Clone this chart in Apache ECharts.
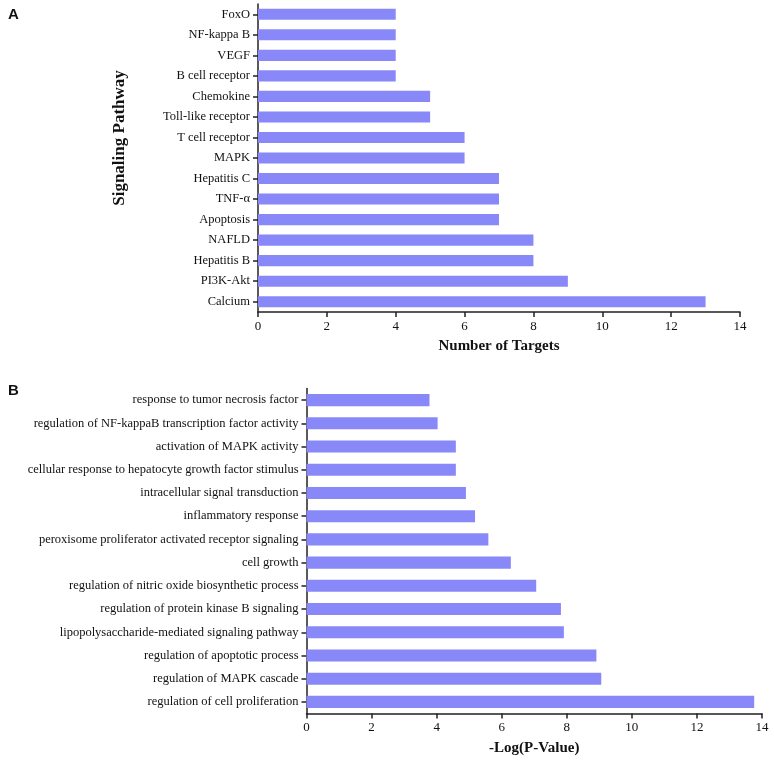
<!DOCTYPE html>
<html>
<head>
<meta charset="utf-8">
<script src="https://cdn.jsdelivr.net/npm/echarts@6/dist/echarts.min.js"></script>
<style>
html,body{margin:0;padding:0;background:#fff;}
#chart{width:774px;height:760px;}
</style>
</head>
<body>
<div id="chart"></div>
<script>
// Panel A data (top to bottom)
var pathwayCategories = ["FoxO","NF-kappa B","VEGF","B cell receptor","Chemokine","Toll-like receptor","T cell receptor","MAPK","Hepatitis C","TNF-\u03b1","Apoptosis","NAFLD","Hepatitis B","PI3K-Akt","Calcium"];
var pathwayTargets = [4,4,4,4,5,5,6,6,7,7,7,8,8,9,13];

// Panel B data (top to bottom)
var goCategories = ["response to tumor necrosis factor","regulation of NF-kappaB transcription factor activity","activation of MAPK activity","cellular response to hepatocyte growth factor stimulus","intracellular signal transduction","inflammatory response","peroxisome proliferator activated receptor signaling","cell growth","regulation of nitric oxide biosynthetic process","regulation of protein kinase B signaling","lipopolysaccharide-mediated signaling pathway","regulation of apoptotic process","regulation of MAPK cascade","regulation of cell proliferation"];
var goLogP = [3.78,4.03,4.59,4.59,4.90,5.18,5.59,6.28,7.06,7.82,7.91,8.91,9.06,13.76];

var xTicks = [0,2,4,6,8,10,12,14];

var serif = "'Liberation Serif','Times New Roman',serif";
var axisColor = '#222';
var barColor = '#8888f8';

function xAxisDef(gridIndex, name){
  return {
    type:'value', gridIndex:gridIndex, min:xTicks[0], max:xTicks[xTicks.length-1], interval:xTicks[1]-xTicks[0],
    name:name, nameLocation:'middle', nameGap:27,
    nameTextStyle:{fontFamily:serif, fontWeight:'bold', fontSize:15, color:'#111'},
    axisLine:{show:true, lineStyle:{color:axisColor, width:1.5}},
    axisTick:{show:true, inside:false, length:5, lineStyle:{color:axisColor, width:1.5}},
    axisLabel:{fontFamily:serif, fontSize:13, color:'#111', margin:8},
    splitLine:{show:false}
  };
}
function yAxisDef(gridIndex, cats){
  return {
    type:'category', gridIndex:gridIndex, data:cats, inverse:true,
    axisLine:{show:true, lineStyle:{color:axisColor, width:1.5}},
    axisTick:{show:true, alignWithLabel:true, length:5, lineStyle:{color:axisColor, width:1.5}},
    axisLabel:{fontFamily:serif, fontSize:12.5, color:'#111', margin:8, interval:0},
    splitLine:{show:false}
  };
}

var chart = echarts.init(document.getElementById('chart'), null, {renderer:'canvas'});
chart.setOption({
  backgroundColor:'#fff',
  animation:false,
  grid:[
    {left:258, top:4, width:482, height:308},
    {left:306.5, top:388.5, width:455.5, height:325}
  ],
  xAxis:[ xAxisDef(0,'Number of Targets'), xAxisDef(1,'-Log(P-Value)') ],
  yAxis:[ yAxisDef(0,pathwayCategories), yAxisDef(1,goCategories) ],
  series:[
    {type:'bar', xAxisIndex:0, yAxisIndex:0, data:pathwayTargets, barWidth:'54%', itemStyle:{color:barColor}},
    {type:'bar', xAxisIndex:1, yAxisIndex:1, data:goLogP, barWidth:'52%', itemStyle:{color:barColor}}
  ],
  graphic:[
    {type:'text', left:8, top:7, style:{text:'A', font:"bold 15px 'Liberation Sans', Arial, sans-serif", fill:'#111'}},
    {type:'text', left:8, top:383, style:{text:'B', font:"bold 15px 'Liberation Sans', Arial, sans-serif", fill:'#111'}},
    {type:'text', x:120, y:138, rotation:Math.PI/2, style:{text:'Signaling Pathway', font:"bold 17px 'Liberation Serif','Times New Roman',serif", fill:'#111', align:'center', verticalAlign:'middle'}}
  ]
});
</script>
</body>
</html>
